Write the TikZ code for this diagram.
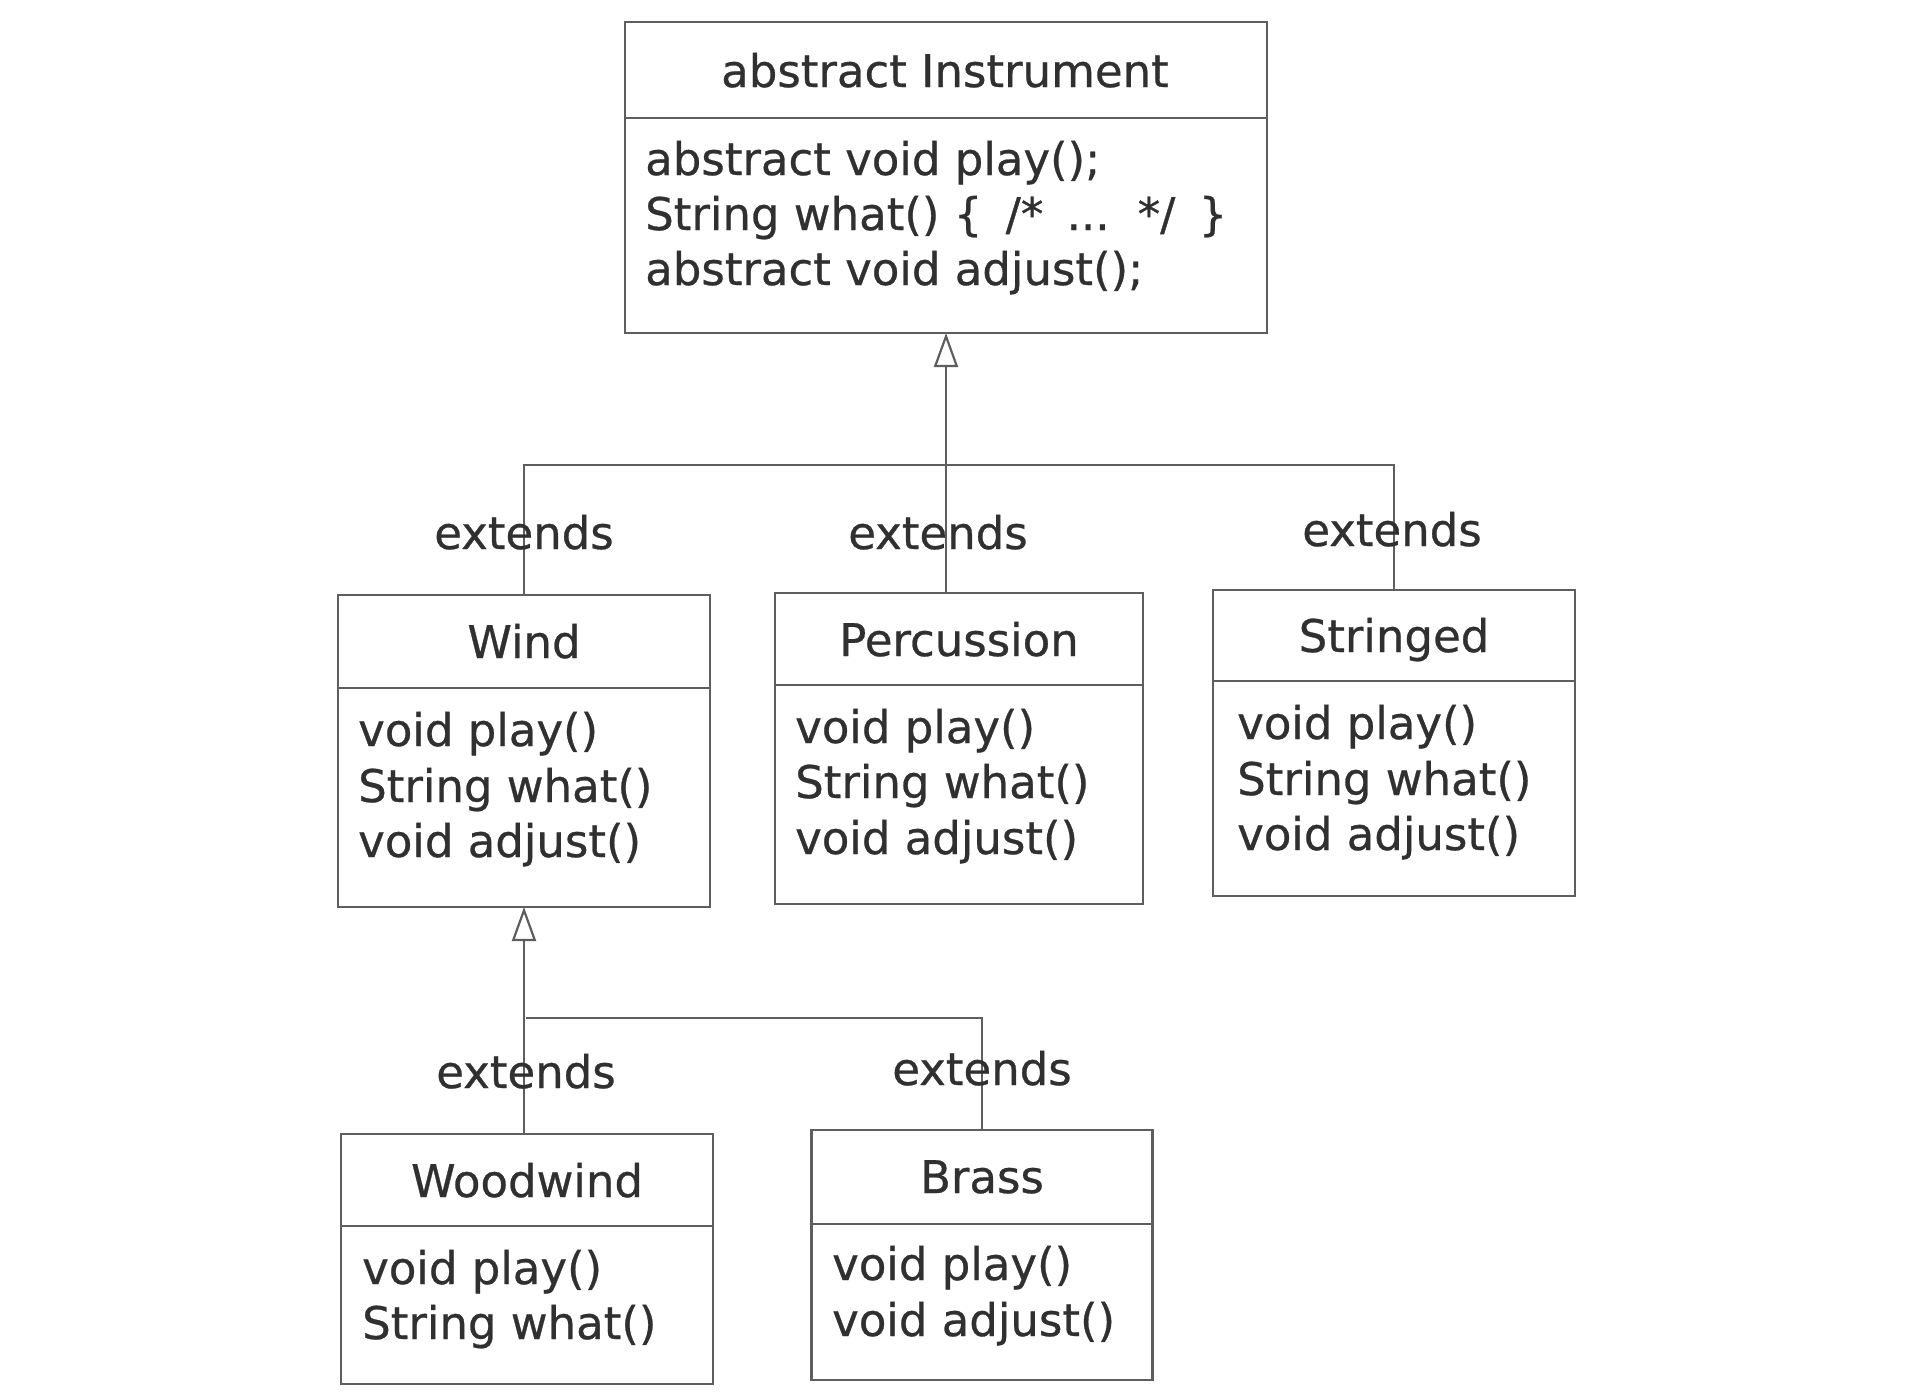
\documentclass[tikz,border=0pt]{standalone}
\usepackage{fontspec}
\setmainfont{DejaVu Sans}[FakeBold=0.6]
\usetikzlibrary{arrows.meta}
\definecolor{txt}{HTML}{303030}
\definecolor{linec}{HTML}{5E5E5E}
\begin{document}
\begin{tikzpicture}[x=1pt,y=-1pt,
  box/.style={draw=linec, line width=2.2pt, inner sep=0pt, outer sep=0pt},
  ttl/.style={font=\fontsize{45}{54}\selectfont, text=txt, anchor=base, inner sep=0pt},
  mth/.style={font=\fontsize{45}{54}\selectfont, text=txt, anchor=base west, inner sep=0pt},
  conn/.style={draw=linec, line width=2.2pt},
  inh/.style={conn, -{Triangle[open, length=34pt, width=24pt, fill=white]}},
  ext/.style={font=\fontsize{45}{54}\selectfont, text=txt, anchor=base, inner sep=0pt}]
\useasboundingbox[fill=white] (0,0) rectangle (1918,1398);

% Instrument
\node[box, minimum width=642pt, minimum height=311pt] (instr) at (946,177.5) {};
\draw[conn] (instr.north west) ++(0,96) -- ++(642,0);
\node[ttl] (instrT) at (945,87) {abstract Instrument};
\node[mth] (instrM1) at (645,175) {abstract void play();};
\node[mth] (instrM2) at (645,230) {String what() \{\hspace{9pt} /*\hspace{9pt} ...\hspace{9pt} */\hspace{9pt} \}};
\node[mth] (instrM3) at (645,285) {abstract void adjust();};

% Wind
\node[box, minimum width=372pt, minimum height=312pt] (wind) at (524,751) {};
\draw[conn] (wind.north west) ++(0,93) -- ++(372,0);
\node[ttl] (windT) at (524,658) {Wind};
\node[mth] (windM1) at (358,746) {void play()};
\node[mth] (windM2) at (358,802) {String what()};
\node[mth] (windM3) at (358,857) {void adjust()};

% Percussion
\node[box, minimum width=368pt, minimum height=311pt] (perc) at (959,748.5) {};
\draw[conn] (perc.north west) ++(0,92) -- ++(368,0);
\node[ttl] (percT) at (959,656) {Percussion};
\node[mth] (percM1) at (795,743) {void play()};
\node[mth] (percM2) at (795,798) {String what()};
\node[mth] (percM3) at (795,854) {void adjust()};

% Stringed
\node[box, minimum width=362pt, minimum height=306pt] (str) at (1394,743) {};
\draw[conn] (str.north west) ++(0,91) -- ++(362,0);
\node[ttl] (strT) at (1394,652) {Stringed};
\node[mth] (strM1) at (1237,739) {void play()};
\node[mth] (strM2) at (1237,795) {String what()};
\node[mth] (strM3) at (1237,850) {void adjust()};

% Woodwind
\node[box, minimum width=372pt, minimum height=250pt] (wood) at (527,1259) {};
\draw[conn] (wood.north west) ++(0,92) -- ++(372,0);
\node[ttl] (woodT) at (527,1197) {Woodwind};
\node[mth] (woodM1) at (362,1284) {void play()};
\node[mth] (woodM2) at (362,1339) {String what()};

% Brass
\node[box, minimum width=341pt, minimum height=250pt] (brass) at (982,1255) {};
\draw[conn] (brass.north west) ++(0,94) -- ++(341,0);
\node[ttl] (brassT) at (982,1193) {Brass};
\node[mth] (brassM1) at (832,1280) {void play()};
\node[mth] (brassM2) at (832,1336) {void adjust()};

% connectors, upper level
\coordinate (j1) at (946,465);
\draw[conn] (wind.north) |- (j1) -| (str.north);
\draw[inh] (instr.south |- perc.north) -- (instr.south);
\node[ext] (e1) at (524,549) {extends};
\node[ext] (e2) at (938,549) {extends};
\node[ext] (e3) at (1392,546) {extends};

% connectors, lower level
\coordinate (j2) at (526,1018);
\draw[inh] (wind.south |- wood.north) -- (wind.south);
\draw[conn] (j2) -| (brass.north);
\node[ext] (e4) at (526,1088) {extends};
\node[ext] (e5) at (982,1085) {extends};
\end{tikzpicture}
\end{document}
